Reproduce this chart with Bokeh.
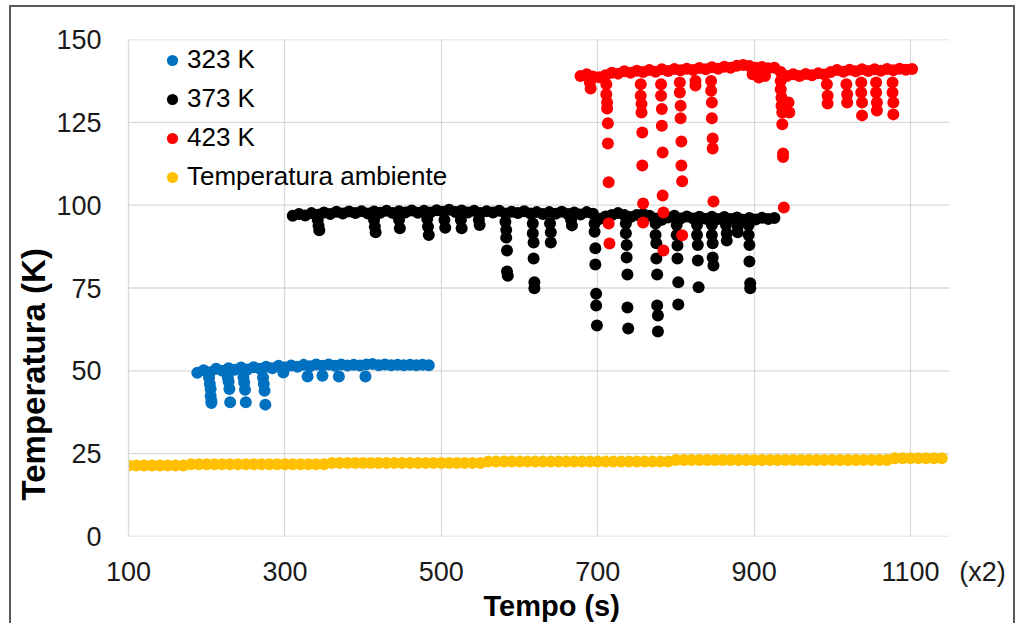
from bokeh.plotting import figure
from bokeh.models import ColumnDataSource, Legend, LegendItem, Title, FixedTicker, Range1d
from bokeh.embed import file_html
from bokeh.resources import INLINE

FONT = "Liberation Sans"

# ---------------- data ----------------
x_ticks = [100, 300, 500, 700, 900, 1100]
y_ticks = [0, 25, 50, 75, 100, 125, 150]
x_data_end = 1150
x_title = "Tempo (s)"
x_note = "(x2)"
y_title = "Temperatura (K)"
series_names = ["323 K", "373 K", "423 K", "Temperatura ambiente"]
series_colors = ["#0070C0", "#000000", "#FF0000", "#FFC000"]

# 323 K : (time, temperature)
blue_base = [
    (188, 49.4), (196, 50.2), (204, 49.6), (212, 50.6), (220, 50.0), (228, 50.8),
    (236, 50.3), (244, 51.0), (252, 50.4), (260, 51.1), (268, 50.6), (276, 51.2),
    (284, 50.8), (292, 51.5), (300, 51.0), (308, 51.6), (316, 51.2), (324, 51.8),
    (332, 51.4), (340, 51.9), (348, 51.5), (356, 51.9), (364, 51.5), (372, 51.9),
    (380, 51.6), (388, 51.8), (396, 51.6), (404, 51.9), (412, 52.1), (420, 51.7),
    (428, 51.9), (436, 51.7), (444, 51.8), (452, 51.7), (460, 51.8), (468, 51.7),
    (476, 51.8), (484, 51.7),
]
blue_dips = [
    (203, 48.0), (204, 46.0), (205, 44.5), (205, 42.5), (206, 41.0), (206, 40.3),
    (227, 48.0), (228, 46.8), (229, 44.5), (230, 40.5),
    (247, 48.0), (248, 46.5), (249, 44.3), (250, 40.5),
    (272, 48.0), (273, 46.0), (274, 44.0), (275, 39.8),
    (298, 49.5), (329, 48.3), (348, 48.5), (369, 48.3), (403, 48.3),
]

# 373 K
black_base = [
    (310, 96.8), (318, 97.3), (326, 96.9), (334, 97.6), (342, 97.1), (350, 97.8),
    (358, 97.3), (366, 98.0), (374, 97.5), (382, 98.1), (390, 97.6), (398, 98.2),
    (406, 97.5), (414, 98.1), (422, 97.7), (430, 98.3), (438, 97.6), (446, 98.2),
    (454, 97.8), (462, 98.4), (470, 97.7), (478, 98.3), (486, 97.8), (494, 98.5),
    (502, 98.0), (510, 98.6), (518, 97.9), (526, 98.4), (534, 97.8), (542, 98.3),
    (550, 97.6), (558, 98.2), (566, 97.8), (574, 98.3), (582, 97.5), (590, 98.0),
    (598, 97.6), (606, 98.2), (614, 97.5), (622, 97.9), (630, 97.3), (638, 97.9),
    (646, 97.4), (654, 98.0), (662, 97.3), (670, 97.8), (678, 97.2), (686, 97.9),
    (694, 97.4), (702, 95.8), (710, 96.6), (718, 97.0), (726, 97.6), (734, 97.0),
    (742, 96.4), (750, 97.0), (758, 97.3), (766, 96.8), (774, 96.0), (782, 95.6),
    (790, 96.3), (798, 96.8), (806, 96.0), (814, 96.6), (822, 96.0), (830, 96.5),
    (838, 95.9), (846, 96.5), (854, 95.8), (862, 96.4), (870, 95.8), (878, 96.3),
    (886, 95.6), (894, 96.1), (902, 95.7), (910, 96.2), (918, 95.8), (926, 96.1),
]
black_dips = [
    (342, 95.5), (343, 93.8), (344, 92.4),
    (414, 95.5), (415, 93.5), (416, 91.8),
    (446, 95.5), (447, 93.0),
    (482, 95.8), (483, 93.5), (484, 91.0),
    (504, 95.5), (505, 93.2),
    (525, 95.5), (526, 93.0),
    (548, 95.6), (549, 94.0),
    (582, 95.0), (583, 92.5), (583, 90.2), (584, 86.3), (584, 80.0), (585, 78.7),
    (617, 94.5), (617, 91.5), (618, 88.7), (618, 83.9), (619, 76.7), (619, 74.9),
    (639, 94.5), (640, 91.8), (640, 88.7),
    (666, 95.5), (667, 93.9),
    (696, 94.5), (696, 92.0), (697, 87.0), (697, 82.1), (698, 73.3), (698, 69.7), (699, 63.7),
    (736, 94.5), (736, 91.5), (737, 88.0), (737, 84.2), (738, 79.1), (738, 69.1), (739, 62.8),
    (774, 94.5), (774, 91.0), (775, 88.5), (775, 83.9), (776, 79.1), (776, 69.7), (777, 66.7), (777, 61.9),
    (801, 94.0), (801, 91.0), (802, 87.8), (802, 83.9), (803, 76.7), (803, 70.0),
    (827, 94.0), (827, 91.0), (828, 88.0), (828, 83.3), (829, 75.2),
    (846, 94.0), (846, 91.0), (847, 88.5), (847, 84.2), (848, 81.8),
    (864, 94.0), (865, 91.5), (865, 89.3),
    (879, 93.5), (879, 91.8),
    (893, 94.0), (893, 91.0), (894, 88.0), (894, 83.0), (895, 76.4), (895, 74.9),
]

# 423 K
red_base = [
    (678, 139.0), (686, 139.5), (694, 138.8), (702, 138.6), (710, 139.2), (718, 140.0),
    (726, 139.7), (734, 140.4), (742, 140.0), (750, 140.6), (758, 140.2), (766, 140.8),
    (774, 140.3), (782, 141.0), (790, 140.5), (798, 141.1), (806, 140.7), (814, 141.2),
    (822, 140.8), (830, 141.4), (838, 141.0), (846, 141.6), (854, 141.2), (862, 141.8),
    (870, 141.5), (878, 142.1), (886, 142.3), (894, 142.0), (902, 141.5), (910, 141.7),
    (918, 141.3), (926, 141.5), (934, 140.2), (942, 139.0), (950, 139.5), (958, 139.0),
    (966, 139.6), (974, 139.2), (982, 139.8), (990, 139.4), (998, 140.2), (1006, 140.8),
    (1014, 140.3), (1022, 140.9), (1030, 140.4), (1038, 141.0), (1046, 140.5), (1054, 141.0),
    (1062, 140.6), (1070, 141.1), (1078, 140.7), (1086, 141.2), (1094, 140.9), (1102, 141.1),
]
red_dips = [
    (690, 137.0), (691, 135.2),
    (711, 136.5), (711, 133.5), (712, 131.0), (712, 129.2), (713, 124.7), (713, 118.6),
    (714, 106.9), (714, 94.5), (715, 88.4),
    (755, 136.5), (755, 133.0), (756, 130.5), (756, 128.0), (757, 121.9), (757, 112.0),
    (758, 100.5), (758, 94.8),
    (781, 136.5), (781, 133.0), (782, 129.0), (782, 124.0), (783, 115.9), (783, 102.9),
    (784, 97.8), (784, 86.3),
    (805, 137.0), (805, 134.0), (806, 130.0), (806, 126.2), (807, 119.2), (807, 112.0),
    (808, 107.2), (808, 90.9),
    (825, 137.5), (825, 136.1),
    (845, 137.5), (845, 134.5), (846, 131.0), (846, 126.2), (847, 120.1), (847, 117.1), (848, 101.1),
    (898, 139.5), (906, 138.5), (914, 139.0),
    (934, 137.5), (934, 135.0), (935, 132.5), (935, 130.0), (936, 128.0), (936, 124.4),
    (937, 115.6), (937, 114.5), (938, 99.3),
    (944, 131.0), (945, 128.0),
    (993, 136.5), (994, 133.0), (994, 130.7),
    (1018, 136.5), (1019, 133.5), (1019, 131.0),
    (1037, 137.0), (1037, 134.0), (1038, 131.0), (1038, 127.1),
    (1056, 137.0), (1056, 134.0), (1057, 131.0), (1057, 128.6),
    (1077, 137.0), (1077, 134.0), (1078, 131.0), (1078, 127.4),
]

# Temperatura ambiente
amb_base = [
    (100, 21.4), (110, 21.4), (120, 21.4), (130, 21.4), (140, 21.4), (150, 21.4),
    (160, 21.4), (170, 21.4), (180, 21.8), (190, 21.8), (200, 21.8), (210, 21.8),
    (220, 21.8), (230, 21.8), (240, 21.8), (250, 21.8), (260, 21.8), (270, 21.8),
    (280, 21.8), (290, 21.8), (300, 21.8), (310, 21.8), (320, 21.8), (330, 21.8),
    (340, 21.8), (350, 21.8), (360, 22.2), (370, 22.2), (380, 22.2), (390, 22.2),
    (400, 22.2), (410, 22.2), (420, 22.2), (430, 22.2), (440, 22.2), (450, 22.2),
    (460, 22.2), (470, 22.2), (480, 22.2), (490, 22.2), (500, 22.2), (510, 22.2),
    (520, 22.2), (530, 22.2), (540, 22.2), (550, 22.2), (560, 22.6), (570, 22.6),
    (580, 22.6), (590, 22.6), (600, 22.6), (610, 22.6), (620, 22.6), (630, 22.6),
    (640, 22.6), (650, 22.6), (660, 22.6), (670, 22.6), (680, 22.6), (690, 22.6),
    (700, 22.6), (710, 22.6), (720, 22.6), (730, 22.6), (740, 22.6), (750, 22.6),
    (760, 22.6), (770, 22.6), (780, 22.6), (790, 22.6), (800, 23.1), (810, 23.1),
    (820, 23.1), (830, 23.1), (840, 23.1), (850, 23.1), (860, 23.1), (870, 23.1),
    (880, 23.1), (890, 23.1), (900, 23.1), (910, 23.1), (920, 23.1), (930, 23.1),
    (940, 23.1), (950, 23.1), (960, 23.1), (970, 23.1), (980, 23.1), (990, 23.1),
    (1000, 23.1), (1010, 23.1), (1020, 23.1), (1030, 23.1), (1040, 23.1), (1050, 23.1),
    (1060, 23.1), (1070, 23.1), (1080, 23.6), (1090, 23.6), (1100, 23.6), (1110, 23.6),
    (1120, 23.6), (1130, 23.6), (1140, 23.6),
]

series_points = [blue_base + blue_dips, black_base + black_dips, red_base + red_dips, amb_base]

# ---------------- figure ----------------
X_VIEW_END = 1224      # frame extends right so the "(x2)" note sits on the tick-label row
NOTE_POS = 1192

p = figure(width=1015, height=623, output_backend="svg", toolbar_location=None,
           x_range=Range1d(100, X_VIEW_END), y_range=Range1d(0, 150),
           min_border_left=128, min_border_right=8, min_border_top=39, min_border_bottom=87,
           background_fill_color="white", border_fill_color=None)
p.outline_line_color = None
line = "linear-gradient(#595959,#595959)"
p.styles = {
    "background": (f"{line} 9px 5px / 2px 660px no-repeat, "
                   f"{line} 9px 5px / 1006px 2px no-repeat, "
                   f"{line} 1013px 5px / 2px 660px no-repeat, #ffffff")
}

# horizontal gridlines only across the data area (100 .. 1150)
p.segment(x0=[x_ticks[0]] * len(y_ticks), x1=[x_data_end] * len(y_ticks),
          y0=y_ticks, y1=y_ticks, line_color="#d9d9d9", line_width=1.3)

renderers = []
for pts, color in zip(series_points, series_colors):
    src = ColumnDataSource(dict(x=[q[0] for q in pts], y=[q[1] for q in pts]))
    r = p.scatter("x", "y", source=src, size=12, fill_color=color, line_color=None)
    renderers.append(r)

# axes
for ax in (p.xaxis[0], p.yaxis[0]):
    ax.major_tick_line_color = None
    ax.minor_tick_line_color = None
    ax.major_tick_out = 0
    ax.major_tick_in = 0
    ax.minor_tick_out = 0
    ax.minor_tick_in = 0
    ax.major_label_text_font = FONT
    ax.major_label_text_font_size = "27px"
    ax.major_label_text_color = "#1a1a1a"
p.xaxis.axis_line_color = None
p.yaxis.axis_line_color = "#d9d9d9"
p.yaxis.axis_line_width = 1.3
p.xaxis.ticker = FixedTicker(ticks=x_ticks + [NOTE_POS])
p.xaxis.major_label_overrides = {NOTE_POS: x_note}
p.yaxis.ticker = FixedTicker(ticks=y_ticks)
p.xaxis.major_label_standoff = 20
p.yaxis.major_label_standoff = 27

p.xgrid.ticker = FixedTicker(ticks=x_ticks)
p.xgrid.grid_line_color = "#d9d9d9"
p.xgrid.grid_line_width = 1.3
p.ygrid.grid_line_color = None

# axis titles
p.add_layout(Title(text=y_title, align="left", offset=36, standoff=4,
                   text_font=FONT, text_font_size="33px", text_font_style="bold",
                   text_color="#000000"), "left")
p.add_layout(Title(text=x_title, align="left", offset=355, standoff=-4,
                   text_font=FONT, text_font_size="29px", text_font_style="bold",
                   text_color="#000000"), "below")

# legend
legend = Legend(items=[LegendItem(label=n, renderers=[r]) for n, r in zip(series_names, renderers)],
                location=(30, 344), orientation="vertical",
                border_line_color=None, background_fill_alpha=0,
                padding=5, margin=0, spacing=8,
                glyph_width=28, glyph_height=30, label_height=30, label_standoff=1,
                label_text_font=FONT, label_text_font_size="26px", label_text_color="#000000")
p.add_layout(legend)

open("out.html", "w").write(file_html(p, INLINE))
